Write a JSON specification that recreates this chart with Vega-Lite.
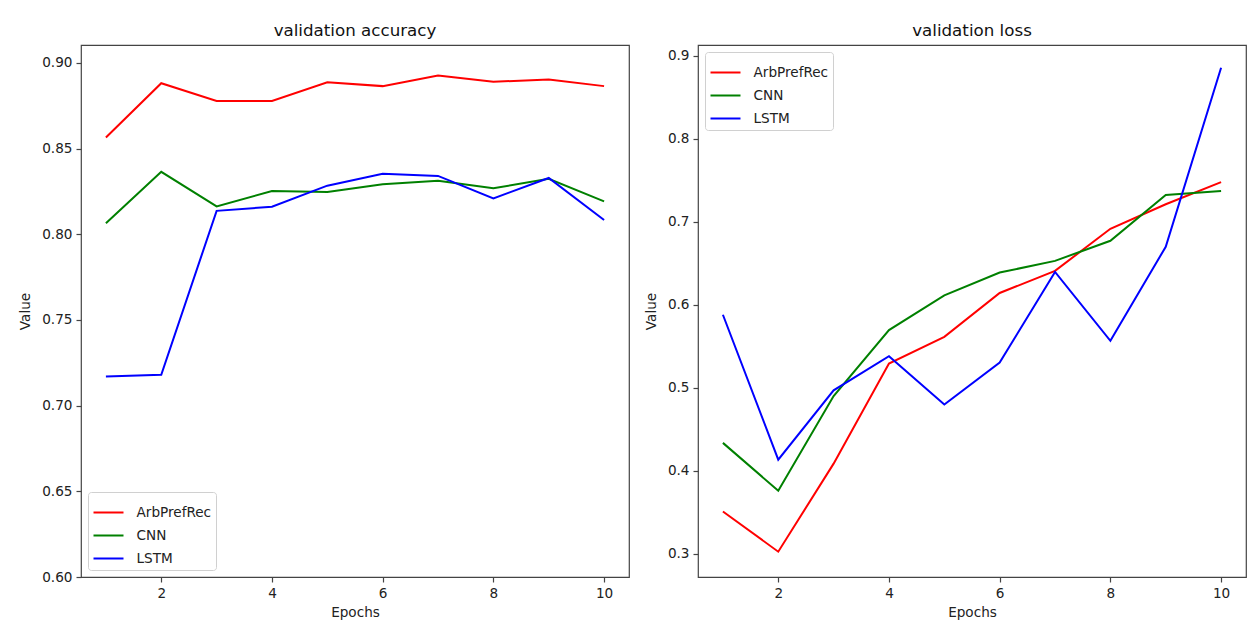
{
  "$schema": "https://vega.github.io/schema/vega-lite/v6.json",
  "background": "white",
  "padding": {"left": 18, "top": 22, "right": 5, "bottom": 5},
  "spacing": 69,
  "bounds": "flush",
  "datasets": {
    "acc": [
      {"epoch": 1, "model": "ArbPrefRec", "value": 0.8565},
      {"epoch": 2, "model": "ArbPrefRec", "value": 0.8882},
      {"epoch": 3, "model": "ArbPrefRec", "value": 0.8778},
      {"epoch": 4, "model": "ArbPrefRec", "value": 0.8778},
      {"epoch": 5, "model": "ArbPrefRec", "value": 0.8888},
      {"epoch": 6, "model": "ArbPrefRec", "value": 0.8865},
      {"epoch": 7, "model": "ArbPrefRec", "value": 0.8927},
      {"epoch": 8, "model": "ArbPrefRec", "value": 0.8890},
      {"epoch": 9, "model": "ArbPrefRec", "value": 0.8904},
      {"epoch": 10, "model": "ArbPrefRec", "value": 0.8865},
      {"epoch": 1, "model": "CNN", "value": 0.8065},
      {"epoch": 2, "model": "CNN", "value": 0.8365},
      {"epoch": 3, "model": "CNN", "value": 0.8163},
      {"epoch": 4, "model": "CNN", "value": 0.8253},
      {"epoch": 5, "model": "CNN", "value": 0.8247},
      {"epoch": 6, "model": "CNN", "value": 0.8292},
      {"epoch": 7, "model": "CNN", "value": 0.8312},
      {"epoch": 8, "model": "CNN", "value": 0.8269},
      {"epoch": 9, "model": "CNN", "value": 0.8324},
      {"epoch": 10, "model": "CNN", "value": 0.8192},
      {"epoch": 1, "model": "LSTM", "value": 0.7170},
      {"epoch": 2, "model": "LSTM", "value": 0.7180},
      {"epoch": 3, "model": "LSTM", "value": 0.8137},
      {"epoch": 4, "model": "LSTM", "value": 0.8161},
      {"epoch": 5, "model": "LSTM", "value": 0.8284},
      {"epoch": 6, "model": "LSTM", "value": 0.8353},
      {"epoch": 7, "model": "LSTM", "value": 0.8341},
      {"epoch": 8, "model": "LSTM", "value": 0.8210},
      {"epoch": 9, "model": "LSTM", "value": 0.8329},
      {"epoch": 10, "model": "LSTM", "value": 0.8084}
    ],
    "loss": [
      {"epoch": 1, "model": "ArbPrefRec", "value": 0.3508},
      {"epoch": 2, "model": "ArbPrefRec", "value": 0.3024},
      {"epoch": 3, "model": "ArbPrefRec", "value": 0.4085},
      {"epoch": 4, "model": "ArbPrefRec", "value": 0.5290},
      {"epoch": 5, "model": "ArbPrefRec", "value": 0.5613},
      {"epoch": 6, "model": "ArbPrefRec", "value": 0.6141},
      {"epoch": 7, "model": "ArbPrefRec", "value": 0.6407},
      {"epoch": 8, "model": "ArbPrefRec", "value": 0.6915},
      {"epoch": 9, "model": "ArbPrefRec", "value": 0.7210},
      {"epoch": 10, "model": "ArbPrefRec", "value": 0.7476},
      {"epoch": 1, "model": "CNN", "value": 0.4335},
      {"epoch": 2, "model": "CNN", "value": 0.3758},
      {"epoch": 3, "model": "CNN", "value": 0.4900},
      {"epoch": 4, "model": "CNN", "value": 0.5694},
      {"epoch": 5, "model": "CNN", "value": 0.6113},
      {"epoch": 6, "model": "CNN", "value": 0.6387},
      {"epoch": 7, "model": "CNN", "value": 0.6528},
      {"epoch": 8, "model": "CNN", "value": 0.6770},
      {"epoch": 9, "model": "CNN", "value": 0.7323},
      {"epoch": 10, "model": "CNN", "value": 0.7371},
      {"epoch": 1, "model": "LSTM", "value": 0.5879},
      {"epoch": 2, "model": "LSTM", "value": 0.4133},
      {"epoch": 3, "model": "LSTM", "value": 0.4968},
      {"epoch": 4, "model": "LSTM", "value": 0.5379},
      {"epoch": 5, "model": "LSTM", "value": 0.4798},
      {"epoch": 6, "model": "LSTM", "value": 0.5302},
      {"epoch": 7, "model": "LSTM", "value": 0.6395},
      {"epoch": 8, "model": "LSTM", "value": 0.5565},
      {"epoch": 9, "model": "LSTM", "value": 0.6698},
      {"epoch": 10, "model": "LSTM", "value": 0.8855}
    ]
  },
  "hconcat": [
    {
      "title": "validation accuracy",
      "width": 548,
      "height": 532,
      "data": {"name": "acc"},
      "mark": {"type": "line", "strokeWidth": 2, "clip": true},
      "encoding": {
        "x": {"field": "epoch", "type": "quantitative", "title": "Epochs",
              "scale": {"domain": [0.55, 10.45], "nice": false, "zero": false},
              "axis": {"values": [2, 4, 6, 8, 10], "format": "d"}},
        "y": {"field": "value", "type": "quantitative", "title": "Value",
              "scale": {"domain": [0.6, 0.9105], "nice": false, "zero": false},
              "axis": {"values": [0.6, 0.65, 0.7, 0.75, 0.8, 0.85, 0.9], "format": ".2f"}},
        "color": {"field": "model", "type": "nominal",
                  "scale": {"domain": ["ArbPrefRec", "CNN", "LSTM"], "range": ["#ff0000", "#008000", "#0000ff"]},
                  "legend": {"orient": "bottom-left", "title": null}}
      }
    },
    {
      "title": "validation loss",
      "width": 548,
      "height": 532,
      "data": {"name": "loss"},
      "mark": {"type": "line", "strokeWidth": 2, "clip": true},
      "encoding": {
        "x": {"field": "epoch", "type": "quantitative", "title": "Epochs",
              "scale": {"domain": [0.55, 10.45], "nice": false, "zero": false},
              "axis": {"values": [2, 4, 6, 8, 10], "format": "d"}},
        "y": {"field": "value", "type": "quantitative", "title": "Value",
              "scale": {"domain": [0.2719, 0.9129], "nice": false, "zero": false},
              "axis": {"values": [0.3, 0.4, 0.5, 0.6, 0.7, 0.8, 0.9], "format": ".1f"}},
        "color": {"field": "model", "type": "nominal",
                  "scale": {"domain": ["ArbPrefRec", "CNN", "LSTM"], "range": ["#ff0000", "#008000", "#0000ff"]},
                  "legend": {"orient": "top-left", "title": null}}
      }
    }
  ],
  "resolve": {"scale": {"y": "independent", "x": "independent"}, "legend": {"color": "independent"}, "axis": {"y": "independent"}},
  "config": {
    "font": "DejaVu Sans",
    "view": {"stroke": "#444444", "strokeWidth": 1.2},
    "axis": {
      "grid": false,
      "domain": false,
      "tickColor": "#444444",
      "tickSize": 5,
      "tickWidth": 1.2,
      "labelFont": "DejaVu Sans",
      "labelFontSize": 13.6,
      "labelColor": "#222222",
      "labelPadding": 4,
      "titleFont": "DejaVu Sans",
      "titleFontSize": 13.6,
      "titleFontWeight": "normal",
      "titleColor": "#222222"
    },
    "axisX": {"titlePadding": 6},
    "axisY": {"titlePadding": 9, "labelFlush": false},
    "title": {"font": "DejaVu Sans", "fontSize": 16.7, "fontWeight": "normal", "color": "#111111", "offset": 5},
    "legend": {
      "symbolType": "stroke",
      "symbolStrokeWidth": 2,
      "symbolSize": 900,
      "labelFont": "DejaVu Sans",
      "labelFontSize": 13.6,
      "labelColor": "#222222",
      "labelOffset": 12,
      "fillColor": "white",
      "strokeColor": "#d0d0d0",
      "cornerRadius": 3,
      "padding": 4.5,
      "rowPadding": -11,
      "offset": 7
    }
  }
}
